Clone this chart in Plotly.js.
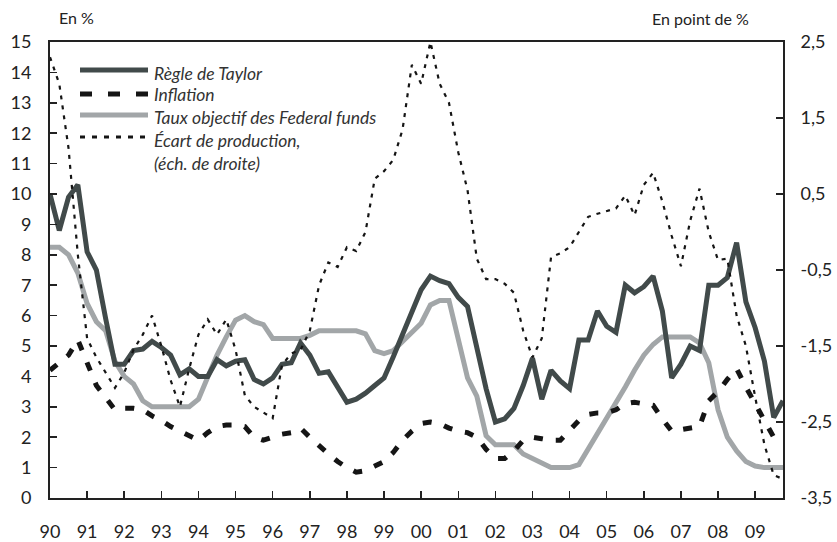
<!DOCTYPE html>
<html>
<head>
<meta charset="utf-8">
<script src="https://cdn.plot.ly/plotly-3.0.1.min.js"></script>
<style>html,body{margin:0;padding:0;background:#fff;}#chart{width:837px;height:542px;}</style>
</head>
<body>
<div id="chart"></div>
<script>
// Quarterly data, 1990Q1 .. 2009Q4
var startYear = 1990;
var taylorRule = [10.0,8.8,9.9,10.3, 8.1,7.5,5.9,4.4, 4.4,4.85,4.9,5.15, 4.95,4.7,4.05,4.25,
  4.0,4.0,4.55,4.35, 4.5,4.55,3.9,3.75, 3.95,4.4,4.45,5.1, 4.7,4.1,4.15,3.65,
  3.15,3.25,3.45,3.7, 3.95,4.65,5.35,6.1, 6.85,7.3,7.15,7.05, 6.6,6.3,5.0,3.6,
  2.5,2.6,2.95,3.7, 4.6,3.25,4.2,3.85, 3.6,5.2,5.2,6.15, 5.65,5.45,7.0,6.75,
  6.95,7.3,6.15,3.95, 4.4,5.0,4.85,7.0, 7.0,7.25,8.4,6.45, 5.6,4.5,2.65,3.2];
var inflation = [4.2,4.45,4.7,5.2, 4.4,3.7,3.3,2.9, 2.95,2.95,2.9,2.7, 2.55,2.35,2.2,2.05,
  1.9,2.15,2.35,2.4, 2.4,2.35,2.0,1.9, 2.0,2.1,2.15,2.3, 2.0,1.7,1.45,1.2,
  1.0,0.85,0.9,1.05, 1.2,1.5,1.9,2.2, 2.45,2.5,2.45,2.3, 2.2,2.15,2.0,1.6,
  1.3,1.3,1.55,1.9, 2.0,1.95,1.9,1.9, 2.25,2.55,2.75,2.8, 2.8,2.9,3.1,3.15,
  3.1,3.05,2.6,2.2, 2.25,2.3,2.35,3.2, 3.5,3.9,4.25,3.65, 3.1,2.6,2.0,2.1];
var fedFundsTarget = [8.25,8.25,8.0,7.4, 6.4,5.8,5.5,4.5, 4.0,3.75,3.2,3.0, 3.0,3.0,3.0,3.0,
  3.25,4.0,4.7,5.3, 5.85,6.0,5.8,5.7, 5.25,5.25,5.25,5.25, 5.35,5.5,5.5,5.5,
  5.5,5.5,5.4,4.85, 4.75,4.85,5.15,5.45, 5.75,6.35,6.5,6.5, 5.3,3.95,3.35,2.05,
  1.75,1.75,1.75,1.45, 1.3,1.15,1.0,1.0, 1.0,1.1,1.6,2.1, 2.65,3.15,3.65,4.2,
  4.7,5.05,5.3,5.3, 5.3,5.3,5.1,4.45, 2.9,2.0,1.55,1.2, 1.05,1.0,1.0,1.0];
var outputGap = [2.3,1.95,1.1,-0.3, -1.4,-1.65,-1.85,-2.05, -1.85,-1.55,-1.35,-1.1, -1.5,-1.95,-2.3,-1.8,
  -1.35,-1.15,-1.35,-1.15, -1.55,-2.15,-2.3,-2.38, -2.45,-1.75,-1.6,-1.55, -1.3,-0.7,-0.4,-0.46,
  -0.2,-0.25,0.0,0.7, 0.8,0.95,1.35,2.2, 1.95,2.5,1.95,1.7, 1.05,0.55,-0.35,-0.62,
  -0.62,-0.68,-0.8,-1.3, -1.65,-1.4,-0.33,-0.28, -0.2,0.0,0.2,0.24, 0.27,0.31,0.48,0.22,
  0.62,0.78,0.4,-0.05, -0.45,0.15,0.57,0.0, -0.37,-0.35,-1.1,-1.5, -2.17,-2.8,-3.2,-3.25];
var yearTicks = [1990,1991,1992,1993,1994,1995,1996,1997,1998,1999,2000,2001,2002,2003,2004,2005,2006,2007,2008,2009];
var yearLabels = ["90","91","92","93","94","95","96","97","98","99","00","01","02","03","04","05","06","07","08","09"];
var leftTicks = [0,1,2,3,4,5,6,7,8,9,10,11,12,13,14,15];
var rightTicks = [2.5,1.5,0.5,-0.5,-1.5,-2.5,-3.5];
var rightLabels = ["2,5","1,5","0,5","-0,5","-1,5","-2,5","-3,5"];
var seriesNames = ["Règle de Taylor","Inflation","Taux objectif des Federal funds","Écart de production,","(éch. de droite)"];

var x = taylorRule.map(function(_, i){ return startYear + i / 4; });

var cTaylor = '#414a4a', cFed = '#a2a6a8', cBlack = '#151515', cAxis = '#222';
var FONT = 'Lato, "Open Sans", sans-serif';

var traces = [
  {x:x, y:fedFundsTarget, type:'scatter', mode:'lines', line:{color:cFed, width:5}, name:seriesNames[2]},
  {x:x, y:taylorRule, type:'scatter', mode:'lines', line:{color:cTaylor, width:5}, name:seriesNames[0]},
  {x:x, y:inflation, type:'scatter', mode:'lines', line:{color:cBlack, width:5, dash:'9px,13px'}, name:seriesNames[1]},
  {x:x, y:outputGap, type:'scatter', mode:'lines', yaxis:'y2', line:{color:cBlack, width:2.2, dash:'4px,6px'}, name:seriesNames[3]}
];

var L = 50, R = 783, T = 42, B = 498;
function px(p){ return (p - L) / (R - L); }
function py(p){ return 1 - (p - T) / (B - T); }

var legendRows = [
  {y:70, color:cTaylor, width:5, dash:'solid'},
  {y:94, color:cBlack, width:5, dash:'12px,16px'},
  {y:115, color:cFed, width:5, dash:'solid'},
  {y:137, color:cBlack, width:3, dash:'5px,7px'}
];
var textY = [73, 95, 118, 140, 163];

var shapes = legendRows.map(function(r){
  return {type:'line', xref:'paper', yref:'paper', x0:px(80), x1:px(148), y0:py(r.y), y1:py(r.y),
          line:{color:r.color, width:r.width, dash:r.dash}};
});
var annotations = seriesNames.map(function(n, i){
  return {xref:'paper', yref:'paper', x:px(152), y:py(textY[i]), xanchor:'left', yanchor:'middle',
          text:'<i>'+n+'</i>', showarrow:false, font:{family:FONT, size:17.5, color:'#333'}};
});
annotations.push({xref:'paper', yref:'paper', x:px(57), y:py(17), xanchor:'left', yanchor:'middle',
  text:'En %', showarrow:false, font:{family:FONT, size:16, color:cAxis}});
annotations.push({xref:'paper', yref:'paper', x:px(751), y:py(18), xanchor:'right', yanchor:'middle',
  text:'En point de %', showarrow:false, font:{family:FONT, size:16, color:cAxis}});

var axisCommon = {ticks:'inside', ticklen:7, tickwidth:1.5, tickcolor:cAxis, showline:true, linewidth:2,
  linecolor:cAxis, showgrid:false, zeroline:false, tickfont:{family:FONT, size:18, color:cAxis}};

var layout = {
  width:837, height:542, margin:{l:L, r:837-R, t:T, b:542-B},
  paper_bgcolor:'#fff', plot_bgcolor:'#fff', showlegend:false,
  font:{family:FONT, color:cAxis},
  xaxis:Object.assign({}, axisCommon, {range:[1990, 2009.75], tickmode:'array', tickvals:yearTicks, ticktext:yearLabels, mirror:true, ticklabelstandoff:16}),
  yaxis:Object.assign({}, axisCommon, {range:[0, 15], tickmode:'array', tickvals:leftTicks, ticklabelstandoff:13}),
  yaxis2:Object.assign({}, axisCommon, {range:[-3.5, 2.5], overlaying:'y', side:'right', tickmode:'array', tickvals:rightTicks, ticktext:rightLabels, ticklabelstandoff:12}),
  shapes:shapes, annotations:annotations
};

Plotly.newPlot('chart', traces, layout, {displayModeBar:false, staticPlot:true});
</script>
</body>
</html>
